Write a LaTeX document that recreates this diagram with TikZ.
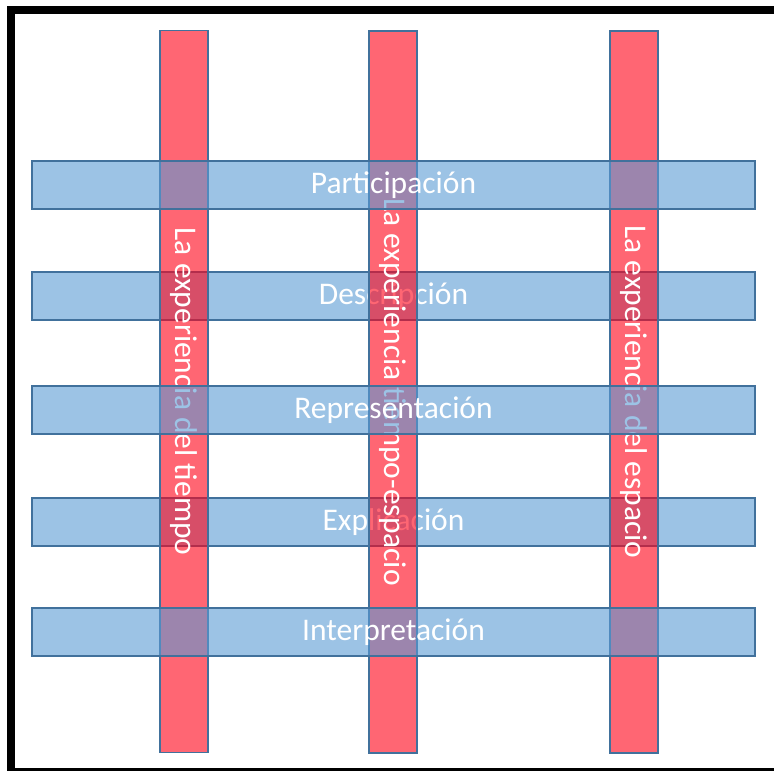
\documentclass[tikz,border=0pt]{standalone}
\usepackage{fontspec}
\setmainfont{Carlito}
\definecolor{barblue}{RGB}{91,155,213}
\definecolor{barred}{RGB}{255,0,22}
\definecolor{edge}{RGB}{65,113,156}
\begin{document}
\begin{tikzpicture}[x=1pt,y=-1pt,
  hbar/.style={draw=edge, line width=1.5pt, fill=barblue, fill opacity=0.6,
    text opacity=1, text=white, minimum width=723pt, minimum height=48pt,
    inner sep=0pt, outer sep=0pt, font=\fontsize{31.5}{34}\selectfont},
  vbar/.style={draw=edge, line width=1.5pt, fill=barred, fill opacity=0.6,
    text opacity=1, text=white, rotate=-90, minimum width=722pt, minimum height=48pt,
    inner sep=0pt, outer sep=0pt, font=\fontsize{31.5}{34}\selectfont},
  frameband/.style={fill=black, draw=none}]
\useasboundingbox (0,0) rectangle (774,771);
\fill[white] (0,0) rectangle (774,771);
% frame
\fill[frameband] (7,6) rectangle (774,14);
\fill[frameband] (7,6) rectangle (15,771);
\fill[frameband] (7,768) rectangle (774,771);
% lower blue bars
\node[hbar] (descripcion) at (393.5,296) {Descripción};
\node[hbar] (explicacion) at (393.5,522) {Explicación};
% red bars
\node[vbar] (tiempo) at (184,391.5) {La experiencia del tiempo};
\node[vbar] (tiempoespacio) at (393,392) {La experiencia tiempo-espacio};
\node[vbar] (espacio) at (634,392) {La experiencia del espacio};
% upper blue bars
\node[hbar] (participacion) at (393.5,185) {Participación};
\node[hbar] (representacion) at (393.5,410) {Representación};
\node[hbar] (interpretacion) at (393.5,632) {Interpretación};
\end{tikzpicture}
\end{document}
